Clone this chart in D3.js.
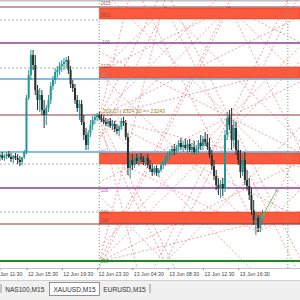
<!DOCTYPE html>
<html><head><meta charset="utf-8">
<script src="https://cdn.jsdelivr.net/npm/d3@7"></script>
<style>html,body{margin:0;padding:0;background:#fff;overflow:hidden}</style>
</head><body>
<svg id="c" width="300" height="300"></svg>
<script>
// ---- DATA ----
// XAUUSD M15 candles: [open, high, low, close]
const ohlc = [
[2320.1,2320.5,2319.7,2320.3],[2320.3,2320.6,2319.8,2320.0],[2320.0,2320.4,2319.7,2320.2],[2320.2,2320.6,2319.9,2320.4],
[2320.4,2320.7,2320.0,2320.1],[2320.1,2320.5,2319.6,2319.9],[2319.9,2320.3,2319.5,2320.2],[2320.2,2320.5,2319.8,2320.0],
[2320.0,2320.4,2319.4,2319.8],[2319.8,2320.2,2319.2,2319.6],[2319.6,2320.0,2319.3,2320.1],[2320.1,2320.8,2319.9,2320.6],
[2320.6,2326.3,2320.4,2326.0],[2326.0,2328.8,2325.8,2328.3],[2328.3,2330.8,2327.8,2330.3],[2330.3,2330.8,2328.8,2329.3],
[2329.3,2330.3,2326.3,2326.8],[2326.8,2327.3,2324.8,2325.8],[2325.8,2327.0,2324.6,2326.3],[2326.3,2326.8,2324.3,2324.8],
[2324.8,2325.8,2323.0,2324.3],[2324.3,2325.3,2323.3,2325.0],[2325.0,2326.3,2324.6,2325.8],[2325.8,2327.6,2325.4,2327.2],
[2327.2,2328.2,2326.8,2327.8],[2327.8,2329.0,2327.4,2328.6],[2328.6,2329.2,2328.0,2328.8],[2328.8,2329.6,2328.3,2329.2],
[2329.2,2329.8,2328.6,2329.4],[2329.4,2330.0,2328.8,2329.6],[2329.6,2330.1,2329.0,2329.8],[2329.8,2330.2,2328.4,2328.8],
[2328.8,2329.2,2327.0,2327.4],[2327.4,2327.8,2326.6,2327.0],[2327.0,2327.4,2325.4,2325.8],[2325.8,2326.3,2324.6,2325.0],
[2325.0,2325.8,2323.8,2325.4],[2325.4,2325.8,2323.3,2323.6],[2323.6,2324.3,2321.8,2322.3],[2322.3,2323.0,2320.8,2321.3],
[2321.3,2322.8,2320.8,2322.5],[2322.5,2323.8,2322.1,2323.3],[2323.3,2324.2,2322.8,2323.8],[2323.8,2324.4,2323.4,2324.1],
[2324.1,2324.5,2323.7,2324.3],[2324.3,2324.6,2323.8,2324.0],[2324.0,2324.4,2323.6,2323.8],[2323.8,2324.2,2323.4,2323.6],
[2323.6,2324.0,2323.2,2323.4],[2323.4,2323.9,2323.1,2323.7],[2323.7,2324.0,2323.0,2323.2],[2323.2,2323.8,2322.8,2323.4],
[2323.4,2323.7,2322.6,2322.9],[2322.9,2323.4,2322.4,2322.7],[2322.7,2323.3,2322.2,2323.1],[2323.1,2324.0,2322.8,2323.7],
[2323.7,2324.1,2323.2,2323.5],[2323.5,2323.8,2321.8,2322.1],[2322.1,2322.5,2318.3,2319.0],[2319.0,2320.3,2318.0,2319.8],
[2319.8,2320.4,2318.8,2319.3],[2319.3,2320.3,2319.0,2320.0],[2320.0,2320.4,2319.4,2319.7],[2319.7,2320.3,2319.2,2320.1],
[2320.1,2320.5,2319.6,2319.9],[2319.9,2320.2,2319.3,2319.6],[2319.6,2320.3,2319.2,2320.0],[2320.0,2320.4,2319.0,2319.3],
[2319.3,2319.8,2318.6,2318.9],[2318.9,2319.4,2318.2,2318.6],[2318.6,2319.2,2318.3,2319.0],[2319.0,2319.3,2318.2,2318.5],
[2318.5,2319.0,2318.1,2318.8],[2318.8,2319.6,2318.6,2319.3],[2319.3,2319.8,2318.9,2319.6],[2319.6,2320.3,2319.2,2320.0],
[2320.0,2320.6,2319.6,2320.3],[2320.3,2320.9,2319.8,2320.6],[2320.6,2321.2,2320.2,2320.9],[2320.9,2321.4,2320.3,2320.7],
[2320.7,2321.3,2320.4,2321.1],[2321.1,2321.8,2320.7,2321.5],[2321.5,2322.0,2320.8,2321.1],[2321.1,2321.7,2320.6,2321.3],
[2321.3,2321.9,2320.8,2321.0],[2321.0,2321.8,2320.5,2321.4],[2321.4,2321.9,2320.6,2320.8],[2320.8,2321.5,2320.3,2321.1],
[2321.1,2321.7,2320.4,2320.6],[2320.6,2321.3,2320.2,2320.9],[2320.9,2321.8,2320.5,2321.5],[2321.5,2322.3,2320.8,2321.2],
[2321.2,2322.2,2320.8,2321.9],[2321.9,2322.6,2321.2,2321.6],[2321.6,2322.4,2320.8,2321.1],[2321.1,2322.0,2320.0,2320.3],
[2320.3,2320.8,2318.8,2319.2],[2319.2,2319.8,2317.8,2318.2],[2318.2,2318.8,2316.8,2317.3],[2317.3,2318.0,2316.3,2317.0],
[2317.0,2317.8,2316.0,2317.4],[2317.4,2318.0,2316.2,2317.0],[2317.0,2322.8,2316.6,2322.3],[2322.3,2324.6,2321.8,2324.0],
[2324.0,2324.8,2322.8,2323.3],[2323.3,2325.0,2320.8,2321.8],[2321.8,2323.8,2321.0,2323.0],[2323.0,2323.6,2320.3,2320.8],
[2320.8,2321.8,2319.3,2319.8],[2319.8,2320.8,2318.0,2318.6],[2318.6,2320.3,2318.2,2319.8],[2319.8,2320.6,2317.3,2317.8],
[2317.8,2318.8,2316.8,2317.2],[2317.2,2318.0,2315.8,2316.3],[2316.3,2317.0,2314.3,2314.8],[2314.8,2315.8,2313.3,2313.8],
[2313.8,2314.6,2312.3,2314.0],[2314.0,2314.3,2312.6,2313.0],[2313.0,2314.4,2312.6,2314.2],[2314.2,2314.8,2313.6,2314.4]
];
// full-width horizontal levels
const levelPrices = [2335.1, 2331.5, 2327.9, 2324.3, 2320.6, 2317.0, 2313.4, 2309.7];
const levelKinds  = ['brown','purple','blue','brown','blue','purple','brown','green'];
// dashed gray levels on the left part
const dashPrices = [2333.8, 2329.0, 2319.4, 2314.6];
// red zones [top, bottom]
const zoneTops    = [2335.0, 2329.1, 2320.5, 2314.6];
const zoneBottoms = [2333.9, 2328.0, 2319.4, 2313.4];
const zoneStartBar = 45;
// Gann fan anchors
const fanBars   = [45, 45, 104, 104, 117, 75, 75];
const fanPrices = [2324.1, 2309.6, 2324.1, 2335.1, 2312.6, 2309.6, 2335.1];
const fanDirs   = [[[1,1],[1,-1]], [[1,1]], [[1,1],[1,-1],[-1,1],[-1,-1]], [[1,-1],[-1,-1]], [[1,1],[-1,1]], [[1,1],[-1,1]], [[1,-1],[-1,-1]]];
const fanRatios = [[0.25,0.5,1,2,4],[0.25,0.5,1,2,4],[0.5,1,2],[0.5,1,2],[0.5,1,2],[1,2],[1,2]];
// level labels
const levelLabelText   = ['2615','2611','-100','2120','-50','50','100','240','210','300'];
const levelLabelPrices = [2335.5, 2334.3, 2331.6, 2329.2, 2328.3, 2320.7, 2316.8, 2314.6, 2313.8, 2309.7];
const levelLabelKinds  = ['brown','brown','purple','brown','blue','blue','purple','brown','brown','green'];
// vertical separators (bars)
const vlineBars = [45, 130.5];
// trend line
const trendBars = [119, 125.5];
const trendPrices = [2314.2, 2316.8];
// time axis
const tickBars = [-4, 12, 28, 44, 60, 76, 92, 108];
const tickLabels = ['12 Jun 11:30','12 Jun 15:30','12 Jun 19:30','12 Jun 23:30','13 Jun 04:30','13 Jun 08:30','13 Jun 12:30','13 Jun 16:30'];
const tabs = ['NAS100,M15','XAUUSD,M15','EURUSD,M15'];
const activeTab = 1;
const anchorNote = '202.07 | 2324.30  => 23243';

// ---- DRAW ----
const svg = d3.select('#c');
const chartBottom = 268;
const x = d3.scaleLinear().domain([0, 136]).range([0, 300]);
const y = d3.scaleLinear().domain([2335.8, 2308.8]).range([0, 270]);
const kindColor = {brown:'#8e3b3b', purple:'#8e3c98', blue:'#5ca8d8', green:'#1d8a1d'};
const kindWidth = {brown:1.2, purple:1.6, blue:1.4, green:2};

svg.append('rect').attr('width',300).attr('height',300).attr('fill','#fff');
svg.append('rect').attr('x',0).attr('y',0).attr('width',300).attr('height',1.5).attr('fill','#c4c4c4');

// dashed gray levels (left side)
svg.selectAll('.dl').data(dashPrices).join('line')
  .attr('x1',0).attr('x2',x(zoneStartBar)).attr('y1',d=>y(d)).attr('y2',d=>y(d))
  .attr('stroke','#9a9a9a').attr('stroke-width',0.8).attr('stroke-dasharray','2,2');

// red zones
svg.selectAll('.zone').data(zoneTops).join('rect')
  .attr('x',x(zoneStartBar)).attr('width',300-x(zoneStartBar))
  .attr('y',d=>y(d)).attr('height',(d,i)=>y(zoneBottoms[i])-y(d))
  .attr('fill','#fb5a3e').attr('stroke','#d9452e').attr('stroke-width',0.6);

// fan lines
const defs = svg.append('defs');
defs.append('clipPath').attr('id','fc').append('rect')
  .attr('x',x(45)).attr('y',0).attr('width',300-x(45)).attr('height',chartBottom);
const unit = 0.2206; // price per bar for 1x1
const fanLines = [];
fanBars.forEach((b,i)=>{
  fanDirs[i].forEach(([dx,dy])=>{
    fanRatios[i].forEach(r=>{
      fanLines.push([[b,fanPrices[i]],[b+dx*160, fanPrices[i]+dy*r*unit*160]]);
    });
  });
});
svg.append('g').attr('clip-path','url(#fc)').selectAll('line').data(fanLines).join('line')
  .attr('x1',d=>x(d[0][0])).attr('y1',d=>y(d[0][1]))
  .attr('x2',d=>x(d[1][0])).attr('y2',d=>y(d[1][1]))
  .attr('stroke','#e05a5a').attr('stroke-width',0.8).attr('stroke-dasharray','2,2').attr('opacity',0.7);

// vertical dotted separators
svg.selectAll('.vl').data(vlineBars).join('line')
  .attr('x1',d=>x(d)).attr('x2',d=>x(d)).attr('y1',0).attr('y2',chartBottom)
  .attr('stroke','#6aa86a').attr('stroke-width',1).attr('stroke-dasharray','1,2');

// horizontal levels
svg.selectAll('.lv').data(levelPrices).join('line')
  .attr('x1',0).attr('x2',300).attr('y1',d=>y(d)).attr('y2',d=>y(d))
  .attr('stroke',(d,i)=>kindColor[levelKinds[i]]).attr('stroke-width',(d,i)=>kindWidth[levelKinds[i]]);

// candles
const bw = 2;
const cg = svg.append('g');
cg.selectAll('.wick').data(ohlc).join('line')
  .attr('x1',(d,i)=>x(i)).attr('x2',(d,i)=>x(i)).attr('y1',d=>y(d[1])).attr('y2',d=>y(d[2]))
  .attr('stroke',d=>d[3]>=d[0]?'#249696':'#263030').attr('stroke-width',1);
cg.selectAll('.body').data(ohlc).join('rect')
  .attr('x',(d,i)=>x(i)-bw/2).attr('width',bw)
  .attr('y',d=>y(Math.max(d[0],d[3]))).attr('height',d=>Math.max(1,Math.abs(y(d[0])-y(d[3]))))
  .attr('fill',d=>d[3]>=d[0]?'#249696':'#263030');

// trend line
svg.append('line').attr('x1',x(trendBars[0])).attr('y1',y(trendPrices[0]))
  .attr('x2',x(trendBars[1])).attr('y2',y(trendPrices[1]))
  .attr('stroke','#5cc05c').attr('stroke-width',0.9);
svg.selectAll('.tp').data(trendBars).join('circle')
  .attr('cx',d=>x(d)).attr('cy',(d,i)=>y(trendPrices[i])).attr('r',1.3)
  .attr('fill','none').attr('stroke','#5cc05c').attr('stroke-width',0.6);

// level labels
svg.selectAll('.ll').data(levelLabelText).join('text')
  .attr('x',x(45)+1.5).attr('y',(d,i)=>y(levelLabelPrices[i])+1.5)
  .attr('font-family','Liberation Sans, Arial, sans-serif').attr('font-size',4.5)
  .attr('fill',(d,i)=>kindColor[levelLabelKinds[i]]).attr('opacity',0.8).text(d=>d);

// anchor note
svg.append('text').attr('x',x(45)+3.5).attr('y',y(2324.3)-2.2)
  .attr('font-family','Liberation Sans, Arial, sans-serif').attr('font-size',5.2)
  .attr('fill','#8a8a2a').text(anchorNote);

// time axis
const ax = svg.append('g').attr('transform',`translate(0,${chartBottom})`)
  .call(d3.axisBottom(x).tickValues(tickBars).tickSize(2).tickFormat((d,i)=>tickLabels[i]));
ax.select('.domain').attr('stroke','#999').attr('stroke-width',0.6);
ax.selectAll('.tick line').attr('stroke','#888');
ax.selectAll('.tick text').attr('text-anchor','start').attr('dx',1).attr('y',4.5)
  .attr('font-family','Liberation Sans, Arial, sans-serif').attr('font-size',5.2).attr('fill','#444');

// tab bar
const tabY = 280;
svg.append('rect').attr('x',0).attr('y',tabY).attr('width',300).attr('height',20).attr('fill','#f0f0f0');
svg.append('line').attr('x1',0).attr('x2',300).attr('y1',tabY+0.5).attr('y2',tabY+0.5).attr('stroke','#d0d0d0');
svg.append('line').attr('x1',1).attr('x2',1).attr('y1',tabY+4).attr('y2',tabY+13).attr('stroke','#999');
const tabX = [4, 49.5, 99.5];
const tabW = [45.5, 50, 50];
svg.append('rect').attr('x',tabX[activeTab]).attr('y',tabY+2.5).attr('width',tabW[activeTab]).attr('height',13)
  .attr('fill','#fff').attr('stroke','#777').attr('stroke-width',0.8);
svg.selectAll('.tab').data(tabs).join('text')
  .attr('x',(d,i)=>tabX[i]+tabW[i]/2 + (i===0?-2:0)).attr('y',tabY+12)
  .attr('text-anchor','middle')
  .attr('font-family','Liberation Sans, Arial, sans-serif').attr('font-size',6.6)
  .attr('fill','#333').text(d=>d);
svg.append('line').attr('x1',150).attr('x2',150).attr('y1',tabY+4).attr('y2',tabY+13).attr('stroke','#999');
</script>
</body></html>
